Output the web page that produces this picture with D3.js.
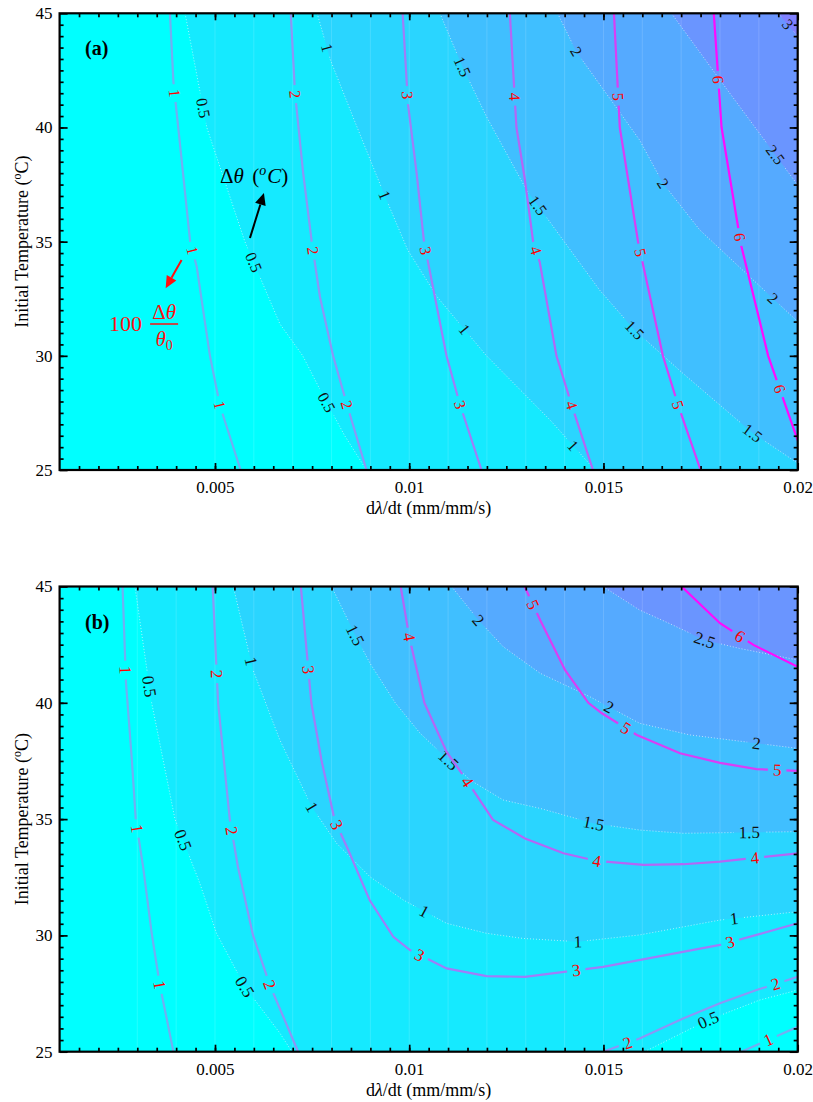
<!DOCTYPE html>
<html>
<head>
<meta charset="utf-8">
<script src="https://cdnjs.cloudflare.com/ajax/libs/d3/7.8.5/d3.min.js"></script>
<style>
body { margin: 0; background: #fff; }
svg, svg text { font-family: "Liberation Serif", "DejaVu Serif", serif; }
</style>
</head>
<body>
<div id="chart"></div>
<script>
var xDomain = [0.001, 0.02];
var yDomain = [25, 45];
var xTicks = [0.005, 0.01, 0.015, 0.02];
var xTickLabels = ["0.005", "0.01", "0.015", "0.02"];
var yTicks = [25, 30, 35, 40, 45];

var dThetaLevels = [0.5, 1, 1.5, 2, 2.5, 3];
// fill under 0.5, 0.5-1, ... , above 3
var bandColors = ["#00ffff", "#15eaff", "#2ad5ff", "#40bfff", "#55aaff", "#6a95ff", "#7f80ff"];
// line colour for 100*dtheta/theta0 = 1..6
var ratioColors = ["#72aef2", "#8c96f6", "#a07df8", "#b466f6", "#d93ef5", "#ff0aff"];

// panel (a) : delta theta contours [dlambda/dt, T0]
var dThetaA = [
  {level: 0.5, pts: [[0.00423,45],[0.00479,40],[0.00577,35],[0.00667,31.4],[0.00726,30],[0.00783,28.1],[0.00834,26.5],[0.0089,25]],
   labels: [[0.0047,40.85],[0.006,34.1],[0.0079,28]]},
  {level: 1, pts: [[0.00763,45],[0.00797,42.96],[0.00859,40.3],[0.00936,37.05],[0.00996,34.64],[0.01071,32.6],[0.01199,30],[0.01362,27.2],[0.01478,25]],
   labels: [[0.00786,43.47],[0.00936,37.05],[0.0114,31.13],[0.0141,25.9]]},
  {level: 1.5, pts: [[0.01079,45],[0.01137,42.66],[0.01199,40.47],[0.01302,37.26],[0.0149,32.88],[0.0158,31.13],[0.01704,29.24],[0.01884,26.62],[0.02,25.3]],
   labels: [[0.01137,42.66],[0.01332,36.6],[0.0158,31.13],[0.01884,26.62]]},
  {level: 2, pts: [[0.01382,45],[0.0143,43.32],[0.01593,39.45],[0.01653,37.56],[0.01748,35.51],[0.02,31.5]],
   labels: [[0.0143,43.32],[0.01653,37.56],[0.01933,32.45]]},
  {level: 2.5, pts: [[0.01675,45],[0.018,42.08],[0.01937,38.93],[0.02,37.48]],
   labels: [[0.01937,38.75]]},
  {level: 3, pts: [[0.0195,45],[0.02,44.0]],
   labels: [[0.01973,44.5]]}
];

// panel (a) : 100*dtheta/theta0 contours
var ratioA = [
  {level: 1, pts: [[0.00384,45],[0.00393,42],[0.00414,38.6],[0.00436,35],[0.00453,33.9],[0.00487,30],[0.00513,27.8],[0.00566,25]],
   labels: [[0.00391,41.5],[0.0044,34.6],[0.00516,27.85]]},
  {level: 2, pts: [[0.00695,45],[0.00706,41.5],[0.00727,38],[0.00749,35],[0.0077,32.6],[0.00804,30],[0.00839,27.9],[0.0089,25]],
   labels: [[0.00706,41.45],[0.00752,34.6],[0.00839,27.85]]},
  {level: 3, pts: [[0.00983,45],[0.00997,41],[0.01019,38],[0.01038,35],[0.01096,30],[0.0113,27.9],[0.01186,25]],
   labels: [[0.00989,41.4],[0.0104,34.6],[0.0113,27.85]]},
  {level: 4, pts: [[0.01259,45],[0.01276,40],[0.01297,37.8],[0.01319,35],[0.01336,34.1],[0.01379,30],[0.01418,27.85],[0.01473,25]],
   labels: [[0.01272,41.35],[0.01322,34.6],[0.01418,27.85]]},
  {level: 5, pts: [[0.01527,45],[0.01542,40],[0.01589,35],[0.01653,30],[0.01692,27.85],[0.0175,25]],
   labels: [[0.01538,41.35],[0.0159,34.5],[0.01692,27.85]]},
  {level: 6, pts: [[0.01784,45],[0.01804,40],[0.01842,36.1],[0.01855,34.8],[0.01924,30],[0.02,26.3]],
   labels: [[0.01793,42.1],[0.01848,35.2],[0.01945,28.5]]}
];

// panel (b) : delta theta contours
var dThetaB = [
  {level: 0.5, pts: [[0.00294,45],[0.00337,40],[0.00397,35],[0.00461,32.24],[0.00504,30.09],[0.00577,27.79],[0.00667,25.8],[0.00698,25]],
   labels: [[0.00324,40.69],[0.00418,34.1],[0.00577,27.79]]},
  {level: 0.5, pts: [[0.01606,25],[0.01769,26.36],[0.01902,27.22],[0.02,27.65]],
   labels: [[0.01769,26.36]]},
  {level: 1, pts: [[0.00547,45],[0.00598,41.41],[0.00667,38.4],[0.00749,35.53],[0.00813,33.96],[0.00899,32.52],[0.00985,31.52],[0.01096,30.52],[0.01199,30.09],[0.01293,29.87],[0.01434,29.73],[0.01593,30.02],[0.018,30.66],[0.02,31.02]],
   labels: [[0.00588,41.77],[0.00749,35.53],[0.01036,30.95],[0.01434,29.73],[0.01838,30.52]]},
  {level: 1.5, pts: [[0.008,45],[0.00861,42.91],[0.00899,41.7],[0.00964,40],[0.01028,38.69],[0.01101,37.54],[0.01157,36.68],[0.01242,35.82],[0.01337,35.46],[0.01474,34.82],[0.01593,34.53],[0.01705,34.39],[0.02,34.46]],
   labels: [[0.00861,42.91],[0.01101,37.54],[0.01474,34.82],[0.01876,34.39]]},
  {level: 2, pts: [[0.01109,45],[0.01178,43.56],[0.01242,42.41],[0.01337,41.27],[0.01465,40.26],[0.01593,39.12],[0.01722,38.62],[0.02,38.04]],
   labels: [[0.01178,43.56],[0.01508,39.62],[0.01894,38.19]]},
  {level: 2.5, pts: [[0.01499,45],[0.01593,43.99],[0.01679,43.34],[0.0176,42.7],[0.0185,42.34],[0.02,41.84]],
   labels: [[0.0176,42.7]]}
];

// panel (b) : 100*dtheta/theta0 contours
var ratioB = [
  {level: 1, pts: [[0.00262,45],[0.00271,40.84],[0.00286,37.54],[0.00296,35],[0.00315,32.95],[0.00337,30.1],[0.00358,27.87],[0.00393,25]],
   labels: [[0.00264,41.4],[0.003,34.6],[0.00358,27.87]]},
  {level: 1, pts: [[0.01855,25],[0.02,26.07]],
   labels: [[0.01923,25.57]]},
  {level: 2, pts: [[0.00494,45],[0.00508,40],[0.00538,35],[0.00559,32.95],[0.00598,30],[0.00641,27.87],[0.00714,25]],
   labels: [[0.00502,41.25],[0.0054,34.5],[0.00641,27.87]]},
  {level: 2, pts: [[0.01499,25],[0.01593,25.57],[0.01705,26.43],[0.018,27.08],[0.01894,27.65],[0.02,28.22]],
   labels: [[0.01561,25.43],[0.01944,27.87]]},
  {level: 3, pts: [[0.00721,45],[0.00748,40],[0.00774,37.54],[0.00808,34.96],[0.00843,33.67],[0.00898,31.52],[0.00959,29.94],[0.01002,29.37],[0.01096,28.58],[0.01199,28.25],[0.01298,28.22],[0.01499,28.65],[0.018,29.59],[0.01894,30.02],[0.02,30.52]],
   labels: [[0.0073,41.4],[0.00813,34.75],[0.01027,29.16],[0.0143,28.45],[0.01825,29.75]]},
  {level: 4, pts: [[0.00978,45],[0.01,42.84],[0.01039,40],[0.01096,37.9],[0.0115,36.61],[0.01199,35.39],[0.01216,34.96],[0.01298,34.17],[0.01397,33.53],[0.01483,33.2],[0.01603,33.03],[0.01706,33.06],[0.018,33.17],[0.02,33.53]],
   labels: [[0.01,42.84],[0.0115,36.61],[0.01483,33.2],[0.0189,33.27]]},
  {level: 5, pts: [[0.01297,45],[0.01337,43.56],[0.01401,41.41],[0.01461,40],[0.01496,39.55],[0.01586,38.62],[0.01697,37.83],[0.018,37.42],[0.01894,37.15],[0.02,37.07]],
   labels: [[0.01315,44.2],[0.01558,38.9],[0.01947,37.11]]},
  {level: 6, pts: [[0.01701,45],[0.018,43.42],[0.01886,42.49],[0.02,41.55]],
   labels: [[0.0185,42.84]]}
];

var W = 813, H = 1102;
var serif = "'Liberation Serif', 'DejaVu Serif', serif";
var mathFont = "'DejaVu Serif', serif";
var svg = d3.select("#chart").append("svg")
  .attr("width", W).attr("height", H)
  .attr("font-family", serif);
var defs = svg.append("defs");

var x = d3.scaleLinear().domain(xDomain).range([59.6, 797.7]);

var panels = [
  {tag: "(a)", top: 13.3, bottom: 470, dTheta: dThetaA, ratio: ratioA, seamFrom: 0.005, fs: 16},
  {tag: "(b)", top: 586.5, bottom: 1051.7, dTheta: dThetaB, ratio: ratioB, seamFrom: 0.003, fs: 17}
];

var maskCount = 0;

// polygon of the region above a contour, closed round the top right corner
function closeRegion(pts) {
  var poly = pts.slice();
  var last = poly[poly.length - 1];
  if (last[1] <= yDomain[0]) poly.push([xDomain[1], yDomain[0]]);
  poly.push([xDomain[1], yDomain[1]]);
  return poly;
}

// put labels on a contour path and cut the path under them
function addLabels(g, path, y, labels, txt, color, fs) {
  var node = path.node();
  var len = node.getTotalLength();
  var samples = d3.range(0, len, 0.5).map(function(l) {
    var p = node.getPointAtLength(l);
    return {l: l, x: p.x, y: p.y};
  });
  var id = "cut" + (maskCount++);
  var mask = defs.append("mask").attr("id", id)
    .attr("maskUnits", "userSpaceOnUse")
    .attr("x", 0).attr("y", 0).attr("width", W).attr("height", H);
  mask.append("rect").attr("width", W).attr("height", H).attr("fill", "white");

  labels.forEach(function(lb) {
    var px = x(lb[0]), py = y(lb[1]);
    var best = d3.least(samples, function(s) { return (s.x - px) * (s.x - px) + (s.y - py) * (s.y - py); });
    var p0 = node.getPointAtLength(Math.max(0, best.l - 3));
    var p1 = node.getPointAtLength(Math.min(len, best.l + 3));
    var ang = Math.atan2(p1.y - p0.y, p1.x - p0.x) * 180 / Math.PI;
    if (ang > 90) ang -= 180;
    if (ang <= -90) ang += 180;
    var tr = "translate(" + best.x + "," + best.y + ") rotate(" + ang + ")";
    var t = g.append("text")
      .attr("transform", tr)
      .attr("text-anchor", "middle")
      .attr("dy", "0.34em")
      .attr("font-size", fs)
      .attr("fill", color)
      .text(txt);
    var w = t.node().getComputedTextLength();
    mask.append("rect")
      .attr("x", -w / 2 - 5).attr("y", -fs * 0.45)
      .attr("width", w + 10).attr("height", fs * 0.9)
      .attr("transform", tr)
      .attr("fill", "black");
  });
  path.attr("mask", "url(#" + id + ")");
}

function arrow(g, x1, y1, x2, y2, color) {
  var a = Math.atan2(y2 - y1, x2 - x1), L = 12, hw = 5.5;
  var bx = x2 - L * Math.cos(a), by = y2 - L * Math.sin(a);
  g.append("line")
    .attr("x1", x1).attr("y1", y1).attr("x2", bx).attr("y2", by)
    .attr("stroke", color).attr("stroke-width", 2);
  g.append("path")
    .attr("d", "M" + x2 + "," + y2 +
      "L" + (bx + hw * Math.sin(a)) + "," + (by - hw * Math.cos(a)) +
      "L" + (bx - hw * Math.sin(a)) + "," + (by + hw * Math.cos(a)) + "Z")
    .attr("fill", color);
}

function drawAxes(g, y, p) {
  var minorX = d3.range(0.0015, 0.02, 0.0005);
  var minorY = d3.range(25.5, 45, 0.5);
  var noText = function() { return ""; };

  g.append("g").attr("transform", "translate(0," + p.bottom + ")")
    .call(d3.axisBottom(x).tickValues(minorX).tickSize(-4).tickFormat(noText));
  g.append("g").attr("transform", "translate(0," + p.bottom + ")")
    .call(d3.axisBottom(x).tickValues(xTicks).tickSizeInner(-7).tickSizeOuter(0).tickPadding(11)
      .tickFormat(function(d, i) { return xTickLabels[i]; }));
  g.append("g").attr("transform", "translate(0," + p.top + ")")
    .call(d3.axisTop(x).tickValues(minorX).tickSize(-4).tickFormat(noText));
  g.append("g").attr("transform", "translate(0," + p.top + ")")
    .call(d3.axisTop(x).tickValues(xTicks).tickSize(-7).tickFormat(noText));

  g.append("g").attr("transform", "translate(" + x.range()[0] + ",0)")
    .call(d3.axisLeft(y).tickValues(minorY).tickSize(-4).tickFormat(noText));
  g.append("g").attr("transform", "translate(" + x.range()[0] + ",0)")
    .call(d3.axisLeft(y).tickValues(yTicks).tickSizeInner(-8).tickSizeOuter(0).tickPadding(7));
  g.append("g").attr("transform", "translate(" + x.range()[1] + ",0)")
    .call(d3.axisRight(y).tickValues(minorY).tickSize(-4).tickFormat(noText));
  g.append("g").attr("transform", "translate(" + x.range()[1] + ",0)")
    .call(d3.axisRight(y).tickValues(yTicks).tickSize(-8).tickFormat(noText));

  g.selectAll(".domain").remove();
  g.selectAll(".tick line").attr("stroke", "#000").attr("stroke-width", 1.7);
  g.selectAll("g").attr("font-family", serif);
  g.selectAll(".tick text")
    .attr("font-family", serif)
    .attr("font-size", 17).attr("fill", "#000");

  g.append("rect")
    .attr("x", x.range()[0]).attr("y", p.top)
    .attr("width", x.range()[1] - x.range()[0]).attr("height", p.bottom - p.top)
    .attr("fill", "none").attr("stroke", "#000").attr("stroke-width", 2.2);

  var xt = g.append("text")
    .attr("x", (x.range()[0] + x.range()[1]) / 2).attr("y", p.bottom + 44)
    .attr("text-anchor", "middle").attr("font-size", 18);
  xt.append("tspan").text("d");
  xt.append("tspan").attr("font-style", "italic").text("λ");
  xt.append("tspan").text("/dt (mm/mm/s)");

  var yt = g.append("text")
    .attr("transform", "translate(28," + (p.top + p.bottom) / 2 + ") rotate(-90)")
    .attr("text-anchor", "middle").attr("font-size", 18);
  yt.append("tspan").text("Initial Temperature (");
  yt.append("tspan").attr("font-size", 12).attr("dy", -7).text("o");
  yt.append("tspan").attr("dy", 7).text("C)");
}

function drawNotes(g, y) {
  // black note for the filled contours
  var t = g.append("text")
    .attr("x", x(0.00513)).attr("y", y(37.57))
    .attr("font-family", mathFont)
    .attr("font-size", 21).attr("fill", "#000");
  t.append("tspan").text("Δ");
  t.append("tspan").attr("font-style", "italic").text("θ");
  t.append("tspan").attr("dx", 3).text(" (");
  t.append("tspan").attr("font-style", "italic").attr("font-size", 14).attr("dy", -8).text("o");
  t.append("tspan").attr("font-style", "italic").attr("dy", 8).attr("dx", 1).text("C");
  t.append("tspan").text(")");
  arrow(g, x(0.0059), y(35.16), x(0.00626), y(37.13), "#000");

  // red note for the line contours
  var ax = x(0.0023), ay = y(31.09);
  var red = "#ff1010";
  g.append("text").attr("x", ax - 1).attr("y", ay)
    .attr("font-family", mathFont)
    .attr("font-size", 22).attr("fill", red).text("100");
  g.append("line")
    .attr("x1", ax + 40).attr("x2", ax + 68).attr("y1", ay - 7).attr("y2", ay - 7)
    .attr("stroke", red).attr("stroke-width", 1.4);
  var num = g.append("text").attr("x", ax + 54).attr("y", ay - 12)
    .attr("font-family", mathFont)
    .attr("text-anchor", "middle").attr("font-size", 21).attr("fill", red);
  num.append("tspan").text("Δ");
  num.append("tspan").attr("font-style", "italic").text("θ");
  var den = g.append("text").attr("x", ax + 54).attr("y", ay + 15)
    .attr("font-family", mathFont)
    .attr("text-anchor", "middle").attr("font-size", 21).attr("fill", red);
  den.append("tspan").attr("font-style", "italic").text("θ");
  den.append("tspan").attr("font-size", 14).attr("dy", 4).text("0");
  arrow(g, x(0.00414), y(34.2), x(0.00373), y(32.96), red);
}

function drawPanel(p, i) {
  var y = d3.scaleLinear().domain(yDomain).range([p.bottom, p.top]);
  var line = d3.line().x(function(d) { return x(d[0]); }).y(function(d) { return y(d[1]); });

  var clipId = "clip" + i;
  defs.append("clipPath").attr("id", clipId).append("rect")
    .attr("x", x.range()[0]).attr("y", p.top)
    .attr("width", x.range()[1] - x.range()[0]).attr("height", p.bottom - p.top);

  var g = svg.append("g");
  var plot = g.append("g").attr("clip-path", "url(#" + clipId + ")");

  plot.append("rect")
    .attr("x", x.range()[0]).attr("y", p.top)
    .attr("width", x.range()[1] - x.range()[0]).attr("height", p.bottom - p.top)
    .attr("fill", bandColors[0]);

  dThetaLevels.forEach(function(lv, k) {
    var parts = p.dTheta.filter(function(c) { return c.level === lv; });
    if (!parts.length) return;
    var pts = [];
    parts.forEach(function(c) { pts = pts.concat(c.pts); });
    plot.append("path")
      .attr("d", line(closeRegion(pts)) + "Z")
      .attr("fill", bandColors[k + 1]);
  });

  // faint seams of the fill mesh
  plot.selectAll(".seam")
    .data(d3.range(p.seamFrom, 0.0195, 0.001))
    .enter().append("line")
    .attr("class", "seam")
    .attr("x1", function(d) { return x(d); }).attr("x2", function(d) { return x(d); })
    .attr("y1", p.top).attr("y2", p.bottom)
    .attr("stroke", "#ffffff").attr("stroke-opacity", 0.14).attr("stroke-width", 1);

  p.dTheta.forEach(function(c) {
    var path = plot.append("path")
      .attr("d", line(c.pts))
      .attr("fill", "none")
      .attr("stroke", "#ffffff").attr("stroke-opacity", 0.6)
      .attr("stroke-width", 1).attr("stroke-dasharray", "1,2");
    addLabels(plot, path, y, c.labels, String(c.level), "#111", p.fs);
  });

  p.ratio.forEach(function(c) {
    var path = plot.append("path")
      .attr("d", line(c.pts))
      .attr("fill", "none")
      .attr("stroke", ratioColors[c.level - 1])
      .attr("stroke-width", 2.2);
    addLabels(plot, path, y, c.labels, String(c.level), "#ff0000", p.fs);
  });

  if (i === 0) drawNotes(plot, y);

  drawAxes(g, y, p);

  g.append("text")
    .attr("x", 85).attr("y", p.top + 42)
    .attr("font-size", 20).attr("font-weight", "bold")
    .text(p.tag);
}

panels.forEach(drawPanel);
</script>
</body>
</html>
